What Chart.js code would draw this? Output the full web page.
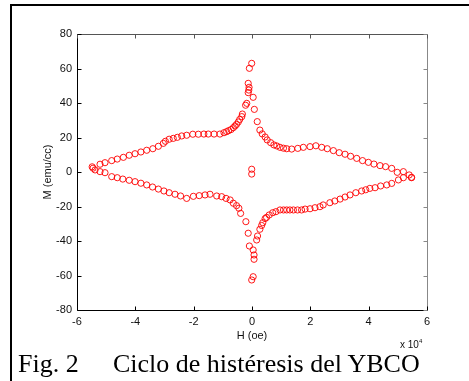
<!DOCTYPE html>
<html>
<head>
<meta charset="utf-8">
<script src="https://cdn.jsdelivr.net/npm/chart.js@4.4.1/dist/chart.umd.min.js"></script>
<style>
  body { margin: 0; background: #fff; }
  #wrap { position: relative; width: 469px; height: 381px; overflow: hidden; background: #fff; }
  #frame { position: absolute; left: 10px; top: 4px; width: 500px; height: 400px;
           border-top: 2px solid #000; border-left: 2px solid #000; }
  canvas { position: absolute; left: 0; top: 0; }
  .cap { position: absolute; top: 351px; font-family: "Liberation Serif", "Times New Roman", serif;
         font-size: 26px; line-height: 26px; color: #000; white-space: pre; }
  #mult { position: absolute; left: 400px; top: 335px; font-family: "Liberation Sans", Arial, sans-serif;
          font-size: 10px; line-height: 12px; color: #111; white-space: pre; }
  #mult sup { font-size: 6px; vertical-align: 5px; }
</style>
</head>
<body>
<div id="wrap">
  <div id="frame"></div>
  <canvas id="c" width="469" height="381"></canvas>
  <div id="mult">x 10<sup>4</sup></div>
  <div class="cap" style="left:18px">Fig. 2</div>
  <div class="cap" style="left:113px">Ciclo de histéresis del YBCO</div>
</div>
<script>
// H in units of 10^4 oe, M in emu/cc
const hStart = [-0.01, -0.01];
const mStart = [1.6, -1.2];

const hUpper = [-5.48, -5.21, -5.04, -4.81, -4.62, -4.41, -4.21, -4.01, -3.81, -3.61,
  -3.40, -3.21, -3.04, -2.97, -2.84, -2.70, -2.56, -2.41, -2.24, -2.03,
  -1.84, -1.65, -1.50, -1.30, -1.10, -0.96, -0.87, -0.80, -0.72, -0.64,
  -0.58, -0.53, -0.47, -0.42, -0.35, -0.33, -0.22, -0.18, -0.13, -0.11,
  -0.10, -0.13, -0.09, -0.01, 0.04, 0.08, 0.18, 0.27, 0.35, 0.45,
  0.52, 0.64, 0.75, 0.85, 0.96, 1.08, 1.19, 1.36, 1.57, 1.76,
  1.99, 2.19, 2.39, 2.58, 2.79, 2.99, 3.19, 3.38, 3.59, 3.79,
  3.99, 4.18, 4.39, 4.58, 4.79, 4.98, 5.19, 5.39, 5.47];
const mUpper = [3.0, 4.5, 5.4, 6.6, 7.5, 8.5, 9.7, 10.6, 11.6, 12.6,
  13.5, 14.9, 16.6, 17.8, 19.0, 19.5, 20.1, 20.9, 21.3, 21.9,
  21.9, 22.0, 22.0, 22.0, 22.0, 22.8, 23.4, 24.0, 24.6, 25.7,
  26.7, 27.6, 29.0, 30.5, 32.1, 33.6, 38.7, 39.8, 46.0, 47.5,
  49.1, 51.4, 60.1, 63.0, 43.3, 36.3, 29.2, 24.3, 22.1, 20.3,
  18.6, 17.0, 15.7, 15.1, 14.3, 13.8, 13.5, 13.3, 13.7, 14.3,
  14.7, 15.2, 14.3, 13.5, 12.4, 11.2, 10.3, 9.1, 7.9, 6.6,
  5.6, 4.6, 3.7, 3.1, 2.1, -0.2, 0.2, -1.7, -3.1];

const hLower = [-5.45, -5.38, -5.21, -5.04, -4.81, -4.62, -4.43, -4.21, -4.01, -3.81,
  -3.61, -3.41, -3.21, -3.02, -2.84, -2.64, -2.45, -2.24, -2.01, -1.81,
  -1.61, -1.44, -1.21, -1.04, -0.89, -0.75, -0.64, -0.53, -0.45, -0.39,
  -0.21, -0.13, -0.09, 0.04, 0.07, 0.07, 0.04, -0.01, 0.16, 0.19,
  0.27, 0.33, 0.37, 0.45, 0.50, 0.59, 0.71, 0.82, 0.96, 1.08,
  1.19, 1.30, 1.42, 1.56, 1.70, 1.82, 1.99, 2.16, 2.33, 2.44,
  2.67, 2.84, 3.02, 3.19, 3.36, 3.56, 3.76, 3.90, 4.04, 4.22,
  4.41, 4.62, 4.79, 5.02, 5.19, 5.47];
const mLower = [2.2, 1.2, 0.2, -0.4, -2.7, -3.3, -4.1, -4.8, -5.6, -6.5,
  -7.5, -8.7, -9.9, -11.0, -12.0, -12.9, -13.9, -15.3, -14.1, -13.7,
  -13.3, -12.9, -13.9, -14.3, -15.3, -16.2, -18.1, -19.5, -21.0, -24.0,
  -28.8, -35.5, -42.9, -45.2, -48.1, -50.6, -60.7, -62.6, -39.4, -37.1,
  -33.2, -31.0, -29.4, -27.0, -26.3, -24.9, -23.6, -23.0, -22.0, -22.0,
  -22.0, -22.0, -22.0, -22.0, -22.0, -21.5, -21.3, -20.7, -20.1, -19.1,
  -17.8, -16.8, -15.7, -14.5, -13.3, -12.0, -11.0, -10.3, -9.5, -9.1,
  -8.1, -7.5, -6.6, -4.6, -3.3, -3.3];

const xTicks = [-6, -4, -2, 0, 2, 4, 6];
const yTicks = [-80, -60, -40, -20, 0, 20, 40, 60, 80];

const toPts = (hs, ms) => hs.map((h, i) => ({ x: h, y: ms[i] }));
const points = [].concat(toPts(hStart, mStart), toPts(hUpper, mUpper), toPts(hLower, mLower));

// MATLAB-style box with inward ticks on all four sides
const boxPlugin = {
  id: "box",
  afterDraw(chart) {
    const { ctx, chartArea: a, scales } = chart;
    const tl = 4;
    ctx.save();
    ctx.lineWidth = 1;
    const line = (x1, y1, x2, y2, col) => {
      ctx.strokeStyle = col;
      ctx.beginPath();
      ctx.moveTo(x1, y1);
      ctx.lineTo(x2, y2);
      ctx.stroke();
    };
    const L = Math.round(a.left) + 0.5, R = Math.round(a.right) + 0.5;
    const T = Math.round(a.top) + 0.5, B = Math.round(a.bottom) + 0.5;
    line(L, T, R, T, "#555");
    line(R, T, R, B, "#888");
    line(L, B, R, B, "#000");
    line(L, T, L, B, "#000");
    xTicks.forEach((v) => {
      const x = Math.round(scales.x.getPixelForValue(v)) + 0.5;
      line(x, B, x, B - tl, "#000");
      line(x, T, x, T + tl, "#555");
    });
    yTicks.forEach((v) => {
      const y = Math.round(scales.y.getPixelForValue(v)) + 0.5;
      line(L, y, L + tl, y, "#000");
      line(R, y, R - tl, y, "#888");
    });
    ctx.restore();
  },
};

const tickFont = { family: "'Liberation Sans', Arial, sans-serif", size: 11 };

new Chart(document.getElementById("c"), {
  type: "scatter",
  data: {
    datasets: [
      {
        data: points,
        pointStyle: "circle",
        pointRadius: 3.1,
        pointBorderWidth: 1,
        pointBackgroundColor: "rgba(0,0,0,0)",
        pointBorderColor: "rgba(255,0,0,0.9)",
        showLine: false,
      },
    ],
  },
  options: {
    responsive: false,
    animation: false,
    events: [],
    layout: { padding: { left: 0, top: 34, right: 42, bottom: 0 } },
    plugins: { legend: { display: false }, tooltip: { enabled: false } },
    scales: {
      x: {
        type: "linear",
        min: -6,
        max: 6,
        afterFit: (s) => { s.height = 71; },
        afterBuildTicks: (s) => { s.ticks = xTicks.map((v) => ({ value: v })); },
        grid: { display: false, drawTicks: false },
        border: { display: false },
        ticks: { font: tickFont, color: "#111", padding: 5, maxRotation: 0 },
        title: {
          display: true,
          text: "H (oe)",
          font: tickFont,
          color: "#111",
          padding: { top: 0, bottom: 38 },
        },
      },
      y: {
        type: "linear",
        min: -80,
        max: 80,
        afterFit: (s) => { s.width = 77; },
        afterBuildTicks: (s) => { s.ticks = yTicks.map((v) => ({ value: v })); },
        grid: { display: false, drawTicks: false },
        border: { display: false },
        ticks: { font: tickFont, color: "#111", padding: 5 },
        title: {
          display: true,
          text: "M (emu/cc)",
          font: tickFont,
          color: "#111",
          padding: { top: 41, bottom: 0 },
        },
      },
    },
  },
  plugins: [boxPlugin],
});
</script>
</body>
</html>
